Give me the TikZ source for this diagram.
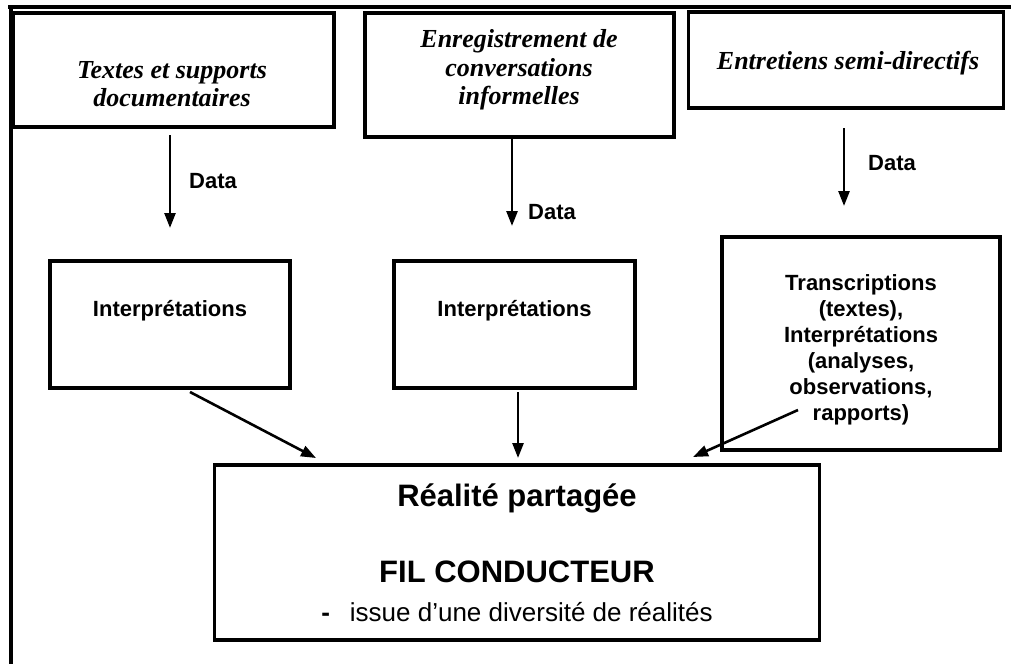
\documentclass[tikz,border=0pt]{standalone}
\usepackage{fontspec}
\setmainfont{Liberation Serif}
\newfontfamily\arial{Liberation Sans}
\usetikzlibrary{arrows.meta}
\begin{document}
\begin{tikzpicture}[x=1pt,y=-1pt,
  srcbox/.style={draw,line width=3.5pt,inner sep=0pt},
  midbox/.style={draw,line width=3.5pt,inner sep=0pt},
  srctext/.style={font=\fontsize{26}{28.5}\selectfont\bfseries\itshape,align=center,inner sep=0pt},
  sanstext/.style={font=\arial\fontsize{22}{26}\selectfont\bfseries,align=center,inner sep=0pt},
  datatext/.style={font=\arial\fontsize{22}{26}\selectfont\bfseries,inner sep=0pt},
  arr/.style={line width=2.6pt,-{Triangle[length=15pt,width=11pt]}}]
\useasboundingbox[fill=white] (0,0) rectangle (1011,664);
% outer frame (top and left)
\draw[line width=4pt] (8,7) -- (1011,7);
\draw[line width=4pt] (11,7) -- (11,664);
% source boxes
\node[srcbox,minimum width=321pt,minimum height=114pt] (b1) at (173.5,70) {};
\node[srcbox,minimum width=309pt,minimum height=124pt] (b2) at (519.5,75) {};
\node[srcbox,minimum width=315pt,minimum height=96pt] (b3) at (846,60) {};
\node[srctext] (t1) at (172,84) {Textes et supports\\documentaires};
\node[srctext] (t2) at (519,70) {Enregistrement de\\conversations\\informelles};
\node[srctext] (t3) at (848,63) {Entretiens semi-directifs};
% data arrows
\coordinate (a1s) at (170,135); \coordinate (a1e) at (170,228);
\coordinate (a2s) at (512,137); \coordinate (a2e) at (512,226);
\coordinate (a3s) at (844,128); \coordinate (a3e) at (844,206);
\draw[arr] (a1s) -- (a1e);
\draw[arr] (a2s) -- (a2e);
\draw[arr] (a3s) -- (a3e);
\node[datatext] (d1) at (213,181) {Data};
\node[datatext] (d2) at (552,212) {Data};
\node[datatext] (d3) at (892,163) {Data};
% middle boxes
\node[midbox,minimum width=240pt,minimum height=127pt] (i1) at (170,324.5) {};
\node[midbox,minimum width=241pt,minimum height=127pt] (i2) at (514.5,324.5) {};
\node[midbox,minimum width=278pt,minimum height=213pt] (i3) at (861,343.5) {};
\node[sanstext] (it1) at (170,311) {Interprétations};
\node[sanstext] (it2) at (514.5,311) {Interprétations};
\node[sanstext] (it3) at (861,350) {Transcriptions\\(textes),\\Interprétations\\(analyses,\\observations,\\rapports)};
% bottom box
\node[draw,line width=3.5pt,minimum width=605pt,minimum height=175pt] (r) at (517,552.5) {};
\node[font=\arial\fontsize{31}{36}\selectfont\bfseries,inner sep=0pt] (r1) at (517,498) {Réalité partagée};
\node[font=\arial\fontsize{31}{36}\selectfont\bfseries,inner sep=0pt] (r2) at (517,572) {FIL CONDUCTEUR};
\node[font=\arial\fontsize{26}{30}\selectfont,inner sep=0pt] (r3) at (517,612) {{\bfseries -}\hspace{20pt}issue d’une diversité de réalités};
% converging arrows
\coordinate (c1s) at (190,392); \coordinate (c1e) at (316,458);
\coordinate (c2s) at (518,392); \coordinate (c2e) at (518,458);
\coordinate (c3s) at (798,410); \coordinate (c3e) at (693,457);
\draw[arr] (c1s) -- (c1e);
\draw[arr] (c2s) -- (c2e);
\draw[arr] (c3s) -- (c3e);
\end{tikzpicture}
\end{document}
